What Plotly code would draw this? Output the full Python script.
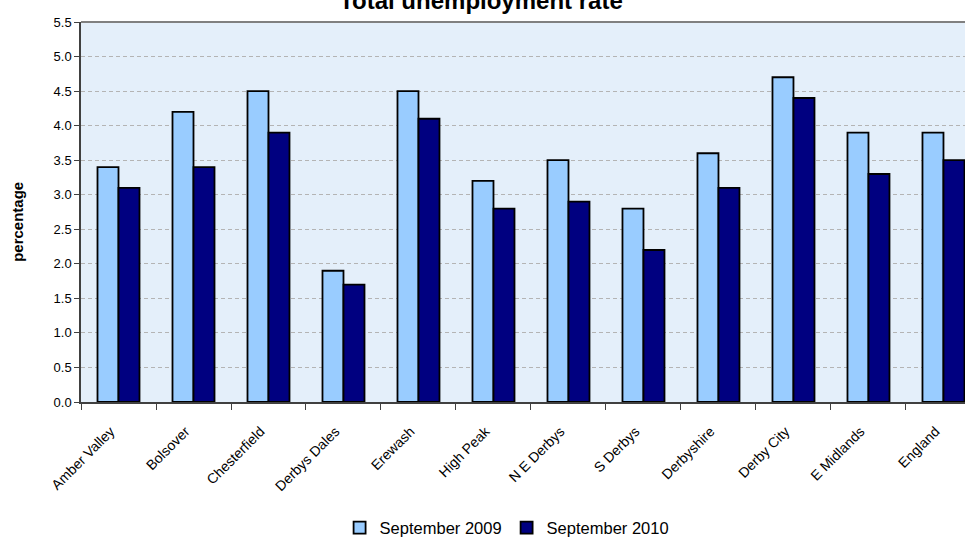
import plotly.graph_objects as go

categories = ["Amber Valley", "Bolsover", "Chesterfield", "Derbys Dales", "Erewash",
              "High Peak", "N E Derbys", "S Derbys", "Derbyshire", "Derby City",
              "E Midlands", "England"]
sep_2009 = [3.4, 4.2, 4.5, 1.9, 4.5, 3.2, 3.5, 2.8, 3.6, 4.7, 3.9, 3.9]
sep_2010 = [3.1, 3.4, 3.9, 1.7, 4.1, 2.8, 2.9, 2.2, 3.1, 4.4, 3.3, 3.5]
y_ticks = [0.0, 0.5, 1.0, 1.5, 2.0, 2.5, 3.0, 3.5, 4.0, 4.5, 5.0, 5.5]

fig = go.Figure()
fig.add_trace(go.Bar(x=categories, y=sep_2009, name="September 2009",
                     marker=dict(color="#99CCFF", line=dict(color="#000000", width=1.8))))
fig.add_trace(go.Bar(x=categories, y=sep_2010, name="September 2010",
                     marker=dict(color="#000080", line=dict(color="#000000", width=1.8))))

fig.update_layout(
    width=965, height=542,
    margin=dict(l=81, r=0, t=22, b=140, autoexpand=False),
    paper_bgcolor="white",
    plot_bgcolor="#E4EFFA",
    barmode="group",
    bargap=0.44,
    bargroupgap=0,
    font=dict(family="Arial, Liberation Sans, sans-serif", color="#000000"),
    showlegend=True,
    legend=dict(orientation="h", x=0.482, xanchor="center", xref="paper",
                y=0.026, yref="container", yanchor="middle", font=dict(size=16.5),
                traceorder="normal", itemwidth=30, tracegroupgap=0),
    title=dict(text="<b>Total unemployment rate</b>", x=0.4984, xanchor="center",
               xref="container", y=0.999, yref="container", yanchor="middle",
               font=dict(size=24)),
    annotations=[dict(text="<b>percentage</b>", textangle=-90, x=-0.0713, xref="paper",
                      y=0.474, yref="paper", xanchor="center", yanchor="middle",
                      showarrow=False, font=dict(size=15))],
    shapes=[dict(type="line", xref="paper", yref="paper", x0=0, x1=1, y0=1, y1=1,
                 line=dict(color="#808080", width=2))],
)

fig.update_xaxes(
    type="category", range=[-0.5, 11.287],
    tickangle=-45, tickfont=dict(size=14),
    ticks="outside", ticklen=6, tickcolor="#404040", tickson="boundaries",
    showline=True, linecolor="#404040", linewidth=1.5,
    showgrid=False, ticklabelstandoff=14, ticklabelshift=-8,
)
fig.update_yaxes(
    range=[0, 5.5], tickvals=y_ticks, tickformat=".1f", tickfont=dict(size=13),
    ticks="outside", ticklen=5, tickcolor="#404040",
    showline=True, linecolor="#404040", linewidth=1.5,
    showgrid=True, gridcolor="#B4B4B4", griddash="4px,3px", gridwidth=1,
    zeroline=False,
)

fig.write_html(
    "out.html",
    config={"displayModeBar": False},
    post_script="document.body.style.margin='0';document.body.style.overflow='hidden';",
)
